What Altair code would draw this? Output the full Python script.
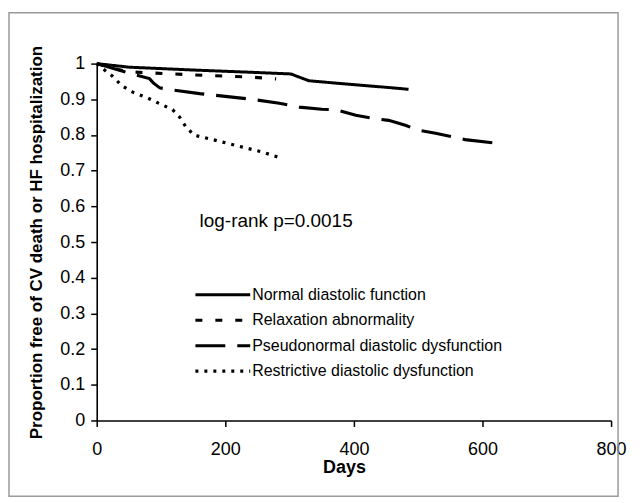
import altair as alt
import pandas as pd

# ---- data ----
series_names = [
    "Normal diastolic function",
    "Relaxation abnormality",
    "Pseudonormal diastolic dysfunction",
    "Restrictive diastolic dysfunction",
]

normal_days = [0, 50, 150, 250, 302, 315, 330, 380, 454, 485]
normal_surv = [1.0, 0.99, 0.982, 0.975, 0.971, 0.962, 0.952, 0.944, 0.933, 0.928]

relax_days = [0, 30, 51, 118, 180, 242, 279]
relax_surv = [1.0, 0.985, 0.977, 0.971, 0.966, 0.962, 0.957]

pseudo_days = [0, 38, 64, 82, 88, 98, 118, 160, 237, 284, 315, 350, 372, 403, 436, 454, 480, 501, 527, 573, 625]
pseudo_surv = [1.0, 0.98, 0.967, 0.958, 0.946, 0.932, 0.926, 0.916, 0.901, 0.889, 0.878, 0.872, 0.871, 0.855, 0.845, 0.841, 0.827, 0.813, 0.805, 0.787, 0.776]

restr_days = [0, 10, 25, 39, 56, 80, 101, 118, 129, 139, 152, 167, 196, 227, 258, 289]
restr_surv = [1.0, 0.985, 0.964, 0.938, 0.92, 0.903, 0.885, 0.871, 0.85, 0.822, 0.799, 0.793, 0.78, 0.766, 0.752, 0.734]

x_ticks = [0, 200, 400, 600, 800]
y_ticks = [0, 0.1, 0.2, 0.3, 0.4, 0.5, 0.6, 0.7, 0.8, 0.9, 1.0]

annotation_text = ["log-rank p=0.0015"]
annotation_day = [160]
annotation_surv = [0.543]

# ---- build table ----
rows = []
for name, dd, ss in zip(series_names,
                        [normal_days, relax_days, pseudo_days, restr_days],
                        [normal_surv, relax_surv, pseudo_surv, restr_surv]):
    for d, s in zip(dd, ss):
        rows.append({"Days": d, "Surv": s, "Group": name})
df = pd.DataFrame(rows)

FONT = "Liberation Sans"

legend_props = dict(title=None, orient="none", legendX=97, legendY=224,
                    symbolType="stroke", symbolSize=3025,
                    symbolStrokeColor="black",
                    labelFontSize=16, labelFont=FONT, labelColor="black",
                    labelLimit=500, labelOffset=0, rowPadding=9.5,
                    clipHeight=16, padding=0)

x_scale = alt.Scale(domain=[0, 800], nice=False, zero=True)
y_scale = alt.Scale(domain=[0, 1], nice=False)

x_axis = alt.Axis(values=x_ticks, title="Days", tickSize=6,
                  labelBaseline="alphabetic", labelPadding=28,
                  labelFlush=False, labelOverlap=False,
                  labelFontSize=18, titleFontSize=18, titleFontWeight="bold",
                  titleX=248, titleY=52, titleBaseline="alphabetic",
                  titleAlign="center")
y_axis = alt.Axis(values=y_ticks, tickCount=11,
                  labelExpr="format(datum.value, '~g')",
                  title="Proportion free of CV death or HF hospitalization",
                  tickSize=6, labelPadding=6, labelFontSize=18,
                  labelOverlap=False, labelFlush=False,
                  titleFontSize=17, titleFontWeight="bold",
                  titleAngle=-90, titleX=-55, titleY=179,
                  titleBaseline="alphabetic", titleAlign="center")

lines = alt.Chart(df).mark_line(color="black", strokeCap="butt", clip=False).encode(
    x=alt.X("Days:Q", scale=x_scale, axis=x_axis),
    y=alt.Y("Surv:Q", scale=y_scale, axis=y_axis),
    strokeDash=alt.StrokeDash("Group:N",
                              scale=alt.Scale(domain=series_names,
                                              range=[[1, 0], [7, 13], [30, 12], [3, 6]]),
                              legend=alt.Legend(**legend_props)),
    strokeWidth=alt.StrokeWidth("Group:N",
                                scale=alt.Scale(domain=series_names,
                                                range=[3, 3.2, 3.4, 1.6]),
                                legend=alt.Legend(**legend_props)),
)

ann_df = pd.DataFrame({"Days": annotation_day, "Surv": annotation_surv, "label": annotation_text})
annotation = alt.Chart(ann_df).mark_text(
    align="left", baseline="alphabetic", fontSize=19, font=FONT, color="black"
).encode(x=alt.X("Days:Q", scale=x_scale, axis=x_axis),
         y=alt.Y("Surv:Q", scale=y_scale, axis=y_axis),
         text="label:N")

frame = alt.Chart(pd.DataFrame({"k": [0]})).mark_rect(
    fillOpacity=0, stroke="#9a9a9a", strokeWidth=1.5
).encode(x=alt.value(-88), x2=alt.value(523), y=alt.value(-51), y2=alt.value(434))

chart = alt.layer(frame, lines, annotation).properties(
    width=516, height=358,
    autosize=alt.AutoSizeParams(type="none"),
    padding={"left": 89, "top": 55, "right": 23, "bottom": 76},
    background="white",
).configure_view(strokeWidth=0).configure_axis(
    domainColor="black", domainWidth=1.6, tickColor="black", tickWidth=1.5,
    labelColor="black", titleColor="black", labelFont=FONT, titleFont=FONT, grid=False
)

chart.save("out.html", embed_options={"renderer": "svg", "actions": False})
